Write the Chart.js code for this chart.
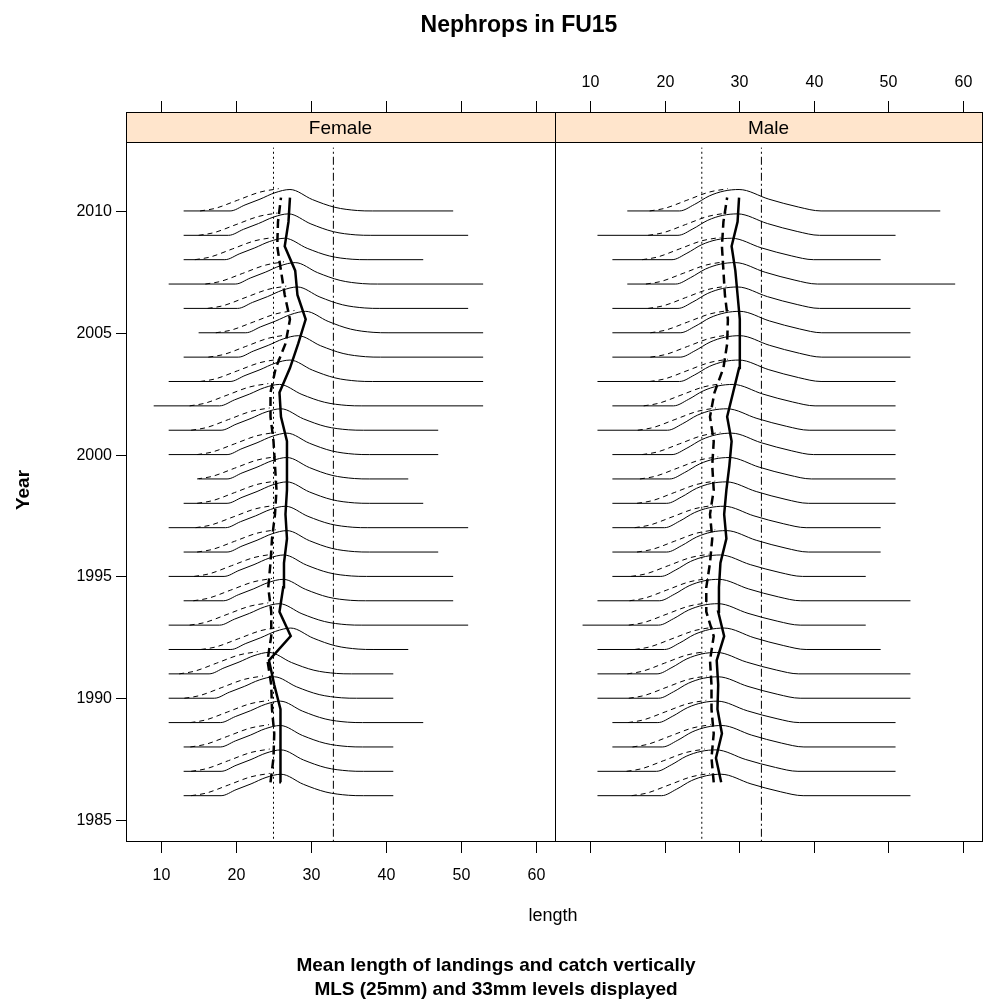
<!DOCTYPE html>
<html>
<head>
<meta charset="utf-8">
<script src="https://cdn.jsdelivr.net/npm/chart.js@4.4.0/dist/chart.umd.min.js"></script>
<style>
  body { margin: 0; background: #fff; }
  canvas { position: absolute; left: 0; top: 0; }
</style>
</head>
<body>
<canvas id="female" width="983" height="1006"></canvas>
<canvas id="male" width="983" height="1006"></canvas>
<script>
const years = [1986,1987,1988,1989,1990,1991,1992,1993,1994,1995,1996,1997,1998,1999,2000,2001,2002,2003,2004,2005,2006,2007,2008,2009,2010];
const xTicks = [10, 20, 30, 40, 50, 60];
const yTicks = [1985, 1990, 1995, 2000, 2005, 2010];
const refLines = [25, 33];

// length range of each year's distribution
const femaleMin = [13,13,13,11,11,11,11,11,13,11,13,11,13,15,11,11,9,11,13,15,13,11,13,13,13];
const femaleMax = [41,41,41,45,41,41,43,51,49,49,47,51,45,43,47,47,53,53,53,53,51,53,45,51,49];
const maleMin = [11,11,13,13,11,11,11,9,11,13,13,13,13,13,13,11,13,11,13,13,13,15,13,11,15];
const maleMax = [53,51,51,51,53,53,49,47,53,47,49,49,51,51,51,51,51,51,53,53,53,59,49,51,57];

// mean length of catch (thick solid) and landings (thick dashed)
const femaleCatchMean = [26,26,25.9,25.9,25.1,24.4,27.3,25.8,26.3,26.4,26.8,26.6,26.8,26.8,26.8,26,25.8,27.2,28.3,29.3,28.2,27.9,26.5,27,27.2];
const femaleLandMean = [24.6,25,25.1,24.8,24.7,24.2,24.7,24.7,24.3,24.6,24.8,25.2,25.4,25.2,25,24.6,24.6,25.3,26.6,27.2,26.5,26,25.5,25.6,26];
const maleCatchMean = [27.6,26.9,27.7,27.1,27.2,27,28,27.2,27.3,27.5,28.3,28,28.3,28.7,29,28.4,29.2,30,30.1,30.1,29.8,29.5,29,29.8,30];
const maleLandMean = [26.6,26.3,26.6,26.3,26.3,26.1,26.6,25.6,25.6,26.1,26.4,26.1,26.6,26.4,26.6,26.1,26.7,27.9,28.4,28.5,28.1,27.9,27.7,27.9,28.4];

// curve profiles: [offset from peak length, relative height]
const femaleSolidShape = [[-8,0],[-6,0.28],[-4,0.55],[-2,0.85],[0,1],[3,0.53],[6,0.17],[9,0.02],[11,0]];
const maleSolidShape = [[-8,0],[-6,0.3],[-4,0.7],[-2,0.93],[0,1],[4,0.55],[8,0.18],[11,0]];
const dashedShape = [[-12,0],[-10,0.12],[-7,0.5],[-4,0.88],[-1.5,1.04]];
const peakHeight = 0.88;

const FONT = "'Liberation Sans', Arial, sans-serif";

function curve(year, peak, shape, lo, hi, withEnds) {
  const pts = [];
  if (withEnds) pts.push({ x: lo, y: year });
  shape.forEach(([dx, h]) => pts.push({ x: peak + dx, y: year + h * peakHeight }));
  if (withEnds) pts.push({ x: hi, y: year });
  return pts;
}

function buildDatasets(mins, maxs, catchMean, landMean, solidShape) {
  const ds = [];
  years.forEach((yr, i) => {
    ds.push({ data: curve(yr, catchMean[i], solidShape, mins[i], maxs[i], true),
      borderColor: '#000', borderWidth: 1, cubicInterpolationMode: 'monotone' });
    ds.push({ data: curve(yr, catchMean[i], dashedShape, 0, 0, false),
      borderColor: '#000', borderWidth: 1, borderDash: [5, 4], cubicInterpolationMode: 'monotone' });
  });
  ds.push({ data: years.map((yr, i) => ({ x: catchMean[i], y: yr + 0.55 })),
    borderColor: '#000', borderWidth: 2.5, tension: 0 });
  ds.push({ data: years.map((yr, i) => ({ x: landMean[i], y: yr + 0.55 })),
    borderColor: '#000', borderWidth: 2.5, borderDash: [9, 5], tension: 0 });
  ds.push({ data: [{ x: refLines[0], y: 1983 }, { x: refLines[0], y: 2012.6 }],
    borderColor: '#000', borderWidth: 1, borderDash: [2, 3] });
  ds.push({ data: [{ x: refLines[1], y: 1983 }, { x: refLines[1], y: 2012.6 }],
    borderColor: '#000', borderWidth: 1, borderDash: [8, 3, 2, 3] });
  return ds;
}

function panelPlugin(label, opts) {
  return {
    id: 'panel' + label,
    afterDraw(chart) {
      const c = chart.ctx, a = chart.chartArea;
      const xs = chart.scales.x, ys = chart.scales.y;
      c.save();
      c.strokeStyle = '#000';
      c.lineWidth = 1;
      // strip
      c.fillStyle = '#ffe5cc';
      c.fillRect(a.left, 112, a.right - a.left, a.top - 112);
      c.strokeRect(a.left + 0.5, 112.5, a.right - a.left, a.top - 112);
      c.strokeRect(a.left + 0.5, a.top + 0.5, a.right - a.left, a.bottom - a.top);
      c.fillStyle = '#000';
      c.font = '19px ' + FONT;
      c.textAlign = 'center';
      c.textBaseline = 'middle';
      c.fillText(label, (a.left + a.right) / 2, 129);
      // x ticks
      c.font = '16px ' + FONT;
      xTicks.forEach(v => {
        const px = Math.round(xs.getPixelForValue(v)) + 0.5;
        c.beginPath(); c.moveTo(px, a.bottom); c.lineTo(px, a.bottom + 12);
        c.moveTo(px, 112); c.lineTo(px, 101); c.stroke();
        if (opts.bottomLabels) c.fillText(String(v), px, 876);
        if (opts.topLabels) c.fillText(String(v), px, 83);
      });
      if (opts.yLabels) {
        c.textAlign = 'right';
        yTicks.forEach(v => {
          const py = Math.round(ys.getPixelForValue(v)) + 0.5;
          c.beginPath(); c.moveTo(a.left, py); c.lineTo(a.left - 10, py); c.stroke();
          c.fillText(String(v), a.left - 14, py);
        });
      }
      c.restore();
    }
  };
}

function makeChart(id, label, left, right, datasets, opts) {
  return new Chart(document.getElementById(id), {
    type: 'scatter',
    data: { datasets },
    options: {
      responsive: false,
      animation: false,
      devicePixelRatio: 1,
      layout: { padding: { left: left, right: 983 - right, top: 142, bottom: 1006 - 841 } },
      elements: { point: { radius: 0 }, line: { fill: false } },
      datasets: { scatter: { showLine: true } },
      plugins: { legend: { display: false }, tooltip: { enabled: false } },
      scales: {
        x: { type: 'linear', min: 5.3, max: 62.6, display: false },
        y: { type: 'linear', min: 1984.14, max: 2012.83, display: false }
      }
    },
    plugins: [panelPlugin(label, opts)]
  });
}

makeChart('female', 'Female', 126, 555,
  buildDatasets(femaleMin, femaleMax, femaleCatchMean, femaleLandMean, femaleSolidShape),
  { bottomLabels: true, yLabels: true });
makeChart('male', 'Male', 555, 982,
  buildDatasets(maleMin, maleMax, maleCatchMean, maleLandMean, maleSolidShape),
  { topLabels: true });

// titles
const tc = document.getElementById('male').getContext('2d');
tc.save();
tc.fillStyle = '#000';
tc.textAlign = 'center';
tc.textBaseline = 'middle';
tc.font = 'bold 23px ' + FONT;
tc.fillText('Nephrops in FU15', 519, 26);
tc.font = '18px ' + FONT;
tc.fillText('length', 553, 916);
tc.font = 'bold 19px ' + FONT;
tc.fillText('Mean length of landings and catch vertically', 496, 966);
tc.fillText('MLS (25mm) and 33mm levels displayed', 496, 990);
tc.translate(24, 490);
tc.rotate(-Math.PI / 2);
tc.font = 'bold 19px ' + FONT;
tc.fillText('Year', 0, 0);
tc.restore();
</script>
</body>
</html>
